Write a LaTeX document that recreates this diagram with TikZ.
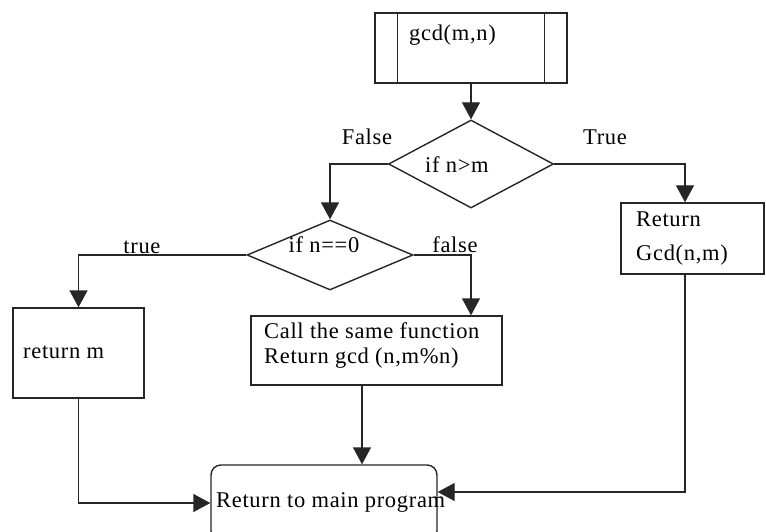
\documentclass[tikz,border=0pt]{standalone}
\usepackage{fontspec}
\setmainfont{Liberation Serif}[LetterSpace=3]
\usetikzlibrary{shapes.geometric,arrows.meta,calc}
\tikzset{
  ln/.style={line width=1.4pt, draw=black!85},
  arr/.style={ln, -{Triangle[length=17pt,width=18pt]}},
  box/.style={ln, rectangle, inner sep=0pt},
  dia/.style={ln, diamond, inner sep=0pt, aspect=1},
  txt/.style={inner sep=0pt, font=\fontsize{22.5}{25}\selectfont, text=black},
}
\begin{document}
\begin{tikzpicture}[x=1pt,y=-1pt]
\useasboundingbox (0,0) rectangle (766,532);
\fill[white] (0,0) rectangle (766,532);
\clip (0,0) rectangle (766,532);
% gcd predefined process
\node[box, minimum width=192pt, minimum height=70pt] (g) at (471,48) {};
\draw[ln] ([xshift=23pt]g.north west) -- ([xshift=23pt]g.south west);
\draw[ln] ([xshift=-23pt]g.north east) -- ([xshift=-23pt]g.south east);
\node[txt, anchor=west] (gt) at (409,35) {gcd(m,n)};
% decisions
\node[dia, minimum width=165pt, minimum height=88pt] (d1) at (471,164) {};
\node[txt] (d1t) at (457,165) {if n>m};
\node[dia, minimum width=166pt, minimum height=70pt] (d2) at (330,255) {};
\node[txt] (d2t) at (324,245) {if n==0};
% boxes
\node[box, minimum width=143pt, minimum height=71pt] (rg) at (692.5,238.5) {};
\node[txt, anchor=west, align=left, font=\fontsize{22.5}{34}\selectfont] (rgt) at (636,239) {Return\\Gcd(n,m)};
\node[box, minimum width=251pt, minimum height=69pt] (call) at (376.5,350.5) {};
\node[txt, anchor=west, align=left] (callt) at (264,345.5) {Call the same function\\Return gcd (n,m\%n)};
\node[box, minimum width=131pt, minimum height=90pt] (rm) at (78.5,353) {};
\node[txt, anchor=west] (rmt) at (23,352) {return m};
\node[box, rounded corners=10pt, minimum width=226pt, minimum height=76pt] (ret) at (324,503) {};
\node[txt, anchor=west] (rett) at (216,502) {Return to main program};
% helper coordinates
\coordinate (rx) at (685,0);
\coordinate (cx) at (362,0);
% connectors
\draw[arr] (g.south) -- (d1.north);
\draw[arr] (d1.west) -| (d2.north);
\draw[arr] (d1.east) -| (rg.north -| rx);
\draw[arr] (d2.west) -| (rm.north);
\draw[arr] (d2.east) -| (call.north -| d1.south);
\draw[arr] (call.south -| cx) -- (ret.north -| cx);
\draw[arr] (rm.south) |- (ret.west);
\draw[arr] (rg.south -| rx) |- ([yshift=11pt]ret.east);
% labels
\node[txt] (lf1) at (367,137) {False};
\node[txt] (lt1) at (605,137) {True};
\node[txt] (lt2) at (142,247) {true};
\node[txt] (lf2) at (455,245) {false};
\end{tikzpicture}
\end{document}
